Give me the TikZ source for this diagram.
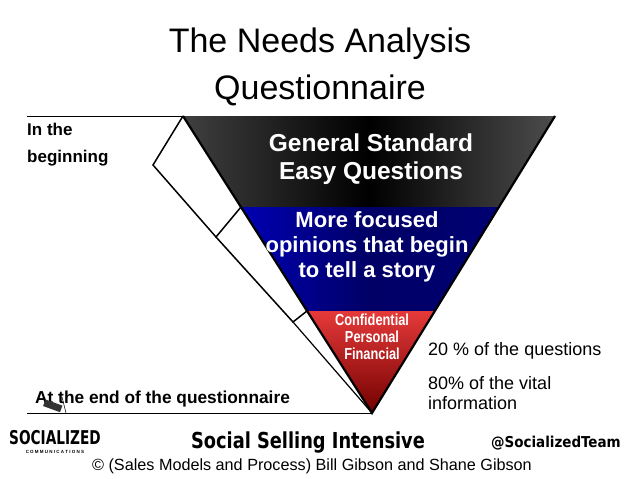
\documentclass[tikz,border=0pt]{standalone}
\usepackage{fontspec}
\setmainfont{Liberation Sans}
\newfontfamily\cond{DejaVu Sans Condensed}
\usetikzlibrary{calc}
\begin{document}
\begin{tikzpicture}[x=1pt,y=-1pt,
  lbl/.style={inner sep=0pt,anchor=west},
  wt/.style={text=white,font=\bfseries,align=center,inner sep=0pt},
  edge/.style={line width=2.2pt,line join=miter}]
\useasboundingbox (0,0) rectangle (638,479);
\fill[white] (0,0) rectangle (638,479);
\coordinate (tl) at (183,116); \coordinate (tr) at (555,116); \coordinate (ap) at (372,413);
\coordinate (l1) at (241,207); \coordinate (r1) at (499,207);
\coordinate (l2) at (307,311); \coordinate (r2) at (434,311);
\coordinate (o0) at (153,165); \coordinate (o1) at (216,237); \coordinate (o2) at (293,322);
% bands
\shade[left color=black!75,right color=black!70,middle color=black] (tl)--(tr)--(r1)--(l1)--cycle;
\shade[left color=blue!70!black,right color=blue!45!black,middle color=blue!40!black] (l1)--(r1)--(r2)--(l2)--cycle;
\shade[top color=red!75!white!90!black,bottom color=red!45!black] (l2)--(r2)--(ap)--cycle;
% side panels
\draw[line width=1.5pt,fill=white,line join=miter] (tl)--(o0)--(o1)--(l1);
\draw[line width=1.5pt,line join=miter] (o1)--(o2)--(l2);
\draw[line width=1.2pt] (o2)--(ap);
\draw[edge] (tr)--(ap)--(tl);
\draw[line width=1pt] (27,116)--(tl);
\draw[line width=1pt] (27,413)--(ap);
% title
\node[inner sep=0pt,font=\fontsize{34}{36}\selectfont] (t1) at (320,44) {The Needs Analysis};
\node[inner sep=0pt,font=\fontsize{34}{36}\selectfont] (t2) at (320,90) {Questionnaire};
\node[wt,font=\bfseries\fontsize{24.5}{28}\selectfont] (b1) at (371,159) {General Standard\\Easy Questions};
\node[wt,font=\bfseries\fontsize{22}{25}\selectfont] (b2) at (367,247) {More focused\\opinions that begin\\to tell a story};
\node[wt,font=\bfseries\fontsize{16}{17}\selectfont,xscale=0.8] (b3) at (372,337) {Confidential\\Personal\\Financial};
\node[lbl,font=\bfseries\fontsize{17}{27}\selectfont,align=left] (lb) at (27,145) {In the\\beginning};
\node[lbl,font=\bfseries\fontsize{17.3}{18}\selectfont] (le) at (35,399) {At the end of the questionnaire};
\node[lbl,font=\fontsize{18}{18}\selectfont] (q1) at (428,351) {20 \% of the questions};
\node[lbl,font=\fontsize{18}{20}\selectfont,align=left] (q2) at (428,393) {80\% of the vital\\information};
% footer
\node[inner sep=0pt,font=\cond\bfseries\fontsize{22}{22}\selectfont,xscale=0.9] (ssi) at (308,443) {Social Selling Intensive};
\node[inner sep=0pt,anchor=east,font=\cond\bfseries\fontsize{15}{17}\selectfont] (st) at (621,443) {@SocializedTeam};
\node[inner sep=0pt,font=\fontsize{16.2}{17}\selectfont] (cp) at (312,466) {© (Sales Models and Process) Bill Gibson and Shane Gibson};
\node[inner sep=0pt,font=\cond\bfseries\fontsize{19}{17}\selectfont,xscale=0.8] (soc) at (55,438) {SOCIALIZED};
\node[inner sep=0pt,font=\bfseries\fontsize{4.5}{5}\selectfont] (com) at (55,452) {C O M M U N I C A T I O N S};
\fill[black!80,rotate around={-20:(52,405)}] (44,402) rectangle (62,409);
\draw[line width=0.6pt] (62,397) -- (66,413);
\end{tikzpicture}
\end{document}
